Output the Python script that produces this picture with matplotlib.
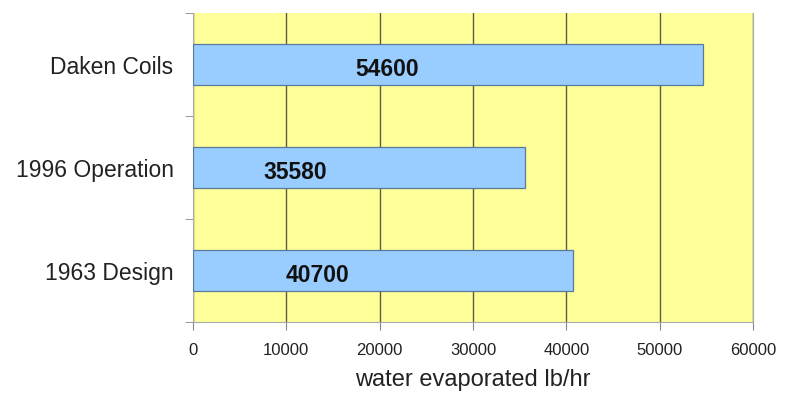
import matplotlib.pyplot as plt
import numpy as np

plt.rcParams['font.family'] = ['Liberation Sans', 'DejaVu Sans']

categories = ['1963 Design', '1996 Operation', 'Daken Coils']
values = [40700, 35580, 54600]
label_x = [13290, 10930, 20840]  # where the data labels sit along x

fig = plt.figure(figsize=(7.85, 3.95), dpi=100)
ax = fig.add_axes([0.2459, 0.1848, 0.7133, 0.7822])
ax.set_facecolor('#FFFF99')

ind = np.arange(len(categories))
ax.barh(ind, values, height=0.39, color='#99CCFF', edgecolor='#5A7A9A', linewidth=0.9, zorder=3)

for i, (v, lx) in enumerate(zip(values, label_x)):
    ax.text(lx, i - 0.045, str(v), ha='center', va='center', fontsize=16.5,
            fontweight='bold', color='#111111', zorder=4)

ax.set_xlim(0, 60000)
ax.set_ylim(-0.5, 2.5)
ax.set_xticks(np.arange(0, 60001, 10000))
ax.tick_params(axis='x', labelsize=12, length=6, color='#888888', pad=9, labelcolor='#222222')
ax.set_yticks(ind)
ax.set_yticklabels(categories, fontsize=16.5, color='#222222')
ax.tick_params(axis='y', length=0, pad=14)
# small ticks at category boundaries
ax.set_yticks([-0.5, 0.5, 1.5, 2.5], minor=True)
ax.tick_params(axis='y', which='minor', length=6, color='#888888')

ax.grid(axis='x', color='#5E5E48', linewidth=1, zorder=1)
for s in ['left', 'bottom', 'right']:
    ax.spines[s].set_color('#AAAAAA')
ax.spines['top'].set_visible(False)

ax.set_xlabel('water evaporated lb/hr', fontsize=17, color='#222222', labelpad=8)

fig.savefig('out.png', dpi=100)
